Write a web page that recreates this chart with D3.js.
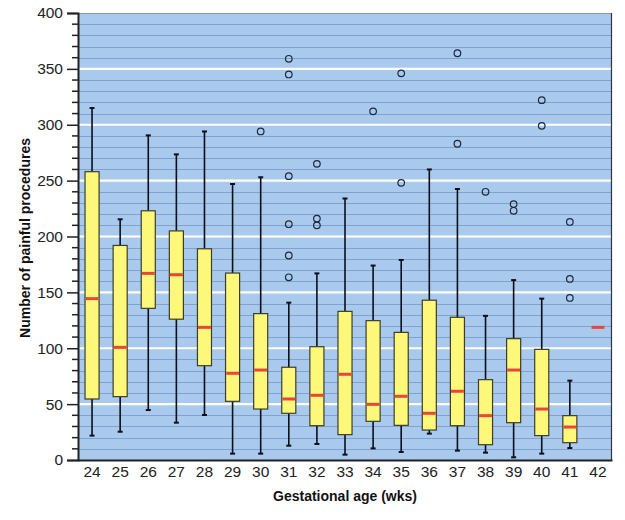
<!DOCTYPE html>
<html>
<head>
<meta charset="utf-8">
<script src="https://cdn.jsdelivr.net/npm/d3@7"></script>
<style>
  html, body { margin: 0; padding: 0; background: #fff; }
  svg { display: block; }
  text { font-family: "Liberation Sans", Arial, sans-serif; }
</style>
</head>
<body>
<svg id="chart" width="625" height="520"></svg>
<script>
const categories = ["24","25","26","27","28","29","30","31","32","33","34","35","36","37","38","39","40","41","42"];
const whiskerLow  = [21.8, 25.3, 44.7, 33.4, 40.3, 5.7, 5.7, 12.8, 14.3, 4.8, 10.4, 7.2, 23.6, 8.4, 6.6, 2.4, 5.7, 10.7, null];
const q1          = [54.6, 56.7, 135.7, 126, 84.4, 52.5, 45.6, 41.8, 30.7, 22.7, 34.6, 31, 26.8, 30.7, 13.7, 33.4, 21.8, 15.5, null];
const medians     = [144.4, 100.8, 167, 165.8, 118.7, 77.6, 80.5, 54.6, 57.9, 76.7, 49.8, 57, 41.8, 61.5, 39.7, 80.5, 45.6, 29.5, 118.7];
const q3          = [258, 192, 223, 205, 189, 167.3, 131, 83, 101.4, 133, 124.7, 114.2, 143, 127.7, 71.9, 108.6, 99, 39.7, null];
const whiskerHigh = [315, 215.4, 290.5, 273.5, 294, 247, 253, 140.8, 167, 234, 174, 179, 260, 242.5, 129, 161, 144.4, 71, null];
const outliers    = [[], [], [], [], [], [], [294], [359, 345, 254, 211, 183, 163.5], [265, 216, 210], [], [312], [346, 248], [], [364, 283], [240], [229, 223], [322, 299], [213, 162, 145], []];
const yTicks = [0, 50, 100, 150, 200, 250, 300, 350, 400];

const svg = d3.select("#chart");
const L = 78, R = 612, T = 13, B = 460;

const x = d3.scaleBand().domain(categories).range([L, R]).padding(0);
const y = d3.scaleLinear().domain([0, 400]).range([B, T]);
const bw = x.bandwidth() * 0.5;

// background
svg.append("rect").attr("x", L).attr("y", T).attr("width", R - L).attr("height", B - T).attr("fill", "#a9caec");

// minor grid
const minor = d3.range(10, 400, 10).filter(v => v % 50 !== 0);
svg.append("g").selectAll("line").data(minor).join("line")
  .attr("x1", L).attr("x2", R)
  .attr("y1", d => Math.round(y(d)) + 0.5).attr("y2", d => Math.round(y(d)) + 0.5)
  .attr("stroke", "#7fa3cc").attr("stroke-width", 1);
// major white grid
svg.append("g").selectAll("line").data(yTicks.filter(v => v > 0 && v < 400)).join("line")
  .attr("x1", L).attr("x2", R)
  .attr("y1", d => y(d)).attr("y2", d => y(d))
  .attr("stroke", "#ffffff").attr("stroke-width", 2.2);

// frame
svg.append("line").attr("x1", L).attr("x2", R).attr("y1", T + 0.5).attr("y2", T + 0.5).attr("stroke", "#8a9aaa").attr("stroke-width", 1);
svg.append("line").attr("x1", R - 0.5).attr("x2", R - 0.5).attr("y1", T).attr("y2", B).attr("stroke", "#334", ).attr("stroke-width", 1.2);

const idx = d3.range(categories.length);
const g = svg.append("g");

// whiskers
idx.forEach(i => {
  const cx = x(categories[i]) + x.bandwidth() / 2;
  if (whiskerHigh[i] != null) {
    g.append("line").attr("x1", cx).attr("x2", cx).attr("y1", y(q3[i])).attr("y2", y(whiskerHigh[i]))
      .attr("stroke", "#0a0f1a").attr("stroke-width", 1.6);
    g.append("line").attr("x1", cx).attr("x2", cx).attr("y1", y(q1[i])).attr("y2", y(whiskerLow[i]))
      .attr("stroke", "#0a0f1a").attr("stroke-width", 1.6);
    [whiskerHigh[i], whiskerLow[i]].forEach(v => {
      g.append("line").attr("x1", cx - 2.5).attr("x2", cx + 2.5).attr("y1", y(v)).attr("y2", y(v))
        .attr("stroke", "#0a0f1a").attr("stroke-width", 2);
    });
    g.append("rect").attr("x", cx - bw / 2).attr("y", y(q3[i])).attr("width", bw).attr("height", y(q1[i]) - y(q3[i]))
      .attr("fill", "#fdf77a").attr("stroke", "#3d3d2a").attr("stroke-width", 1.2);
  }
  g.append("line").attr("x1", cx - bw / 2 + 0.6).attr("x2", cx + bw / 2 - 0.6).attr("y1", y(medians[i])).attr("y2", y(medians[i]))
    .attr("stroke", "#e8463a").attr("stroke-width", 3);
  outliers[i].forEach(v => {
    g.append("circle").attr("cx", cx).attr("cy", y(v)).attr("r", 3.3)
      .attr("fill", "none").attr("stroke", "#1b2a44").attr("stroke-width", 1.2);
  });
});

// y axis
const yAxis = d3.axisLeft(y).tickValues(yTicks).tickSize(11).tickPadding(4).tickFormat(d3.format("d"));
const ya = svg.append("g").attr("transform", `translate(${L},0)`).call(yAxis);
ya.select(".domain").attr("stroke", "#222").attr("stroke-width", 2);
ya.selectAll(".tick line").attr("stroke", "#222").attr("stroke-width", 1.5);
ya.selectAll(".tick text").attr("font-size", 15.5).attr("fill", "#222").attr("font-family", "Liberation Sans, Arial, sans-serif");
// minor y ticks
svg.append("g").selectAll("line").data(d3.range(0, 401, 10).filter(v => v % 50 !== 0)).join("line")
  .attr("x1", L - 6).attr("x2", L).attr("y1", d => y(d)).attr("y2", d => y(d))
  .attr("stroke", "#222").attr("stroke-width", 1.5);

// x axis
const xAxis = d3.axisBottom(x).tickSize(0).tickPadding(6);
const xa = svg.append("g").attr("transform", `translate(0,${B})`).call(xAxis);
xa.select(".domain").attr("stroke", "#222").attr("stroke-width", 2);
xa.selectAll(".tick text").attr("font-size", 15.5).attr("fill", "#222").attr("font-family", "Liberation Sans, Arial, sans-serif");

// titles
svg.append("text").attr("x", (L + R) / 2).attr("y", 501).attr("text-anchor", "middle")
  .attr("font-size", 14).attr("font-weight", "bold").attr("fill", "#111").text("Gestational age (wks)");
svg.append("text").attr("transform", `translate(30,${238}) rotate(-90)`).attr("text-anchor", "middle")
  .attr("font-size", 14).attr("font-weight", "bold").attr("fill", "#111").text("Number of painful procedures");
</script>
</body>
</html>
